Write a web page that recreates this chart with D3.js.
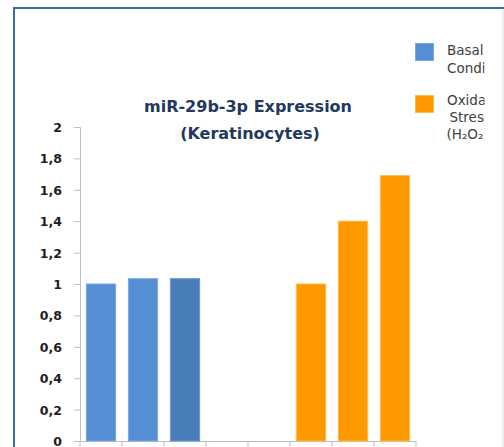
<!DOCTYPE html>
<html><head><meta charset="utf-8">
<script src="https://cdn.jsdelivr.net/npm/d3@7"></script>
<style>html,body{margin:0;padding:0;background:#fff;overflow:hidden}</style>
</head><body>
<svg id="c" width="504" height="447"></svg>
<script>
const categories = ["B1","B2","B3","E1","E2","O1","O2","O3"];
const values = [1.0, 1.034, 1.034, null, null, 1.0, 1.40, 1.69];
const groups = ["basal","basal","basal2",null,null,"ox","ox","ox"];
const yTicks = [0,0.2,0.4,0.6,0.8,1,1.2,1.4,1.6,1.8,2];
const titleLines = ["miR-29b-3p Expression","(Keratinocytes)"];
const legendItems = [
  {key:"basal", lines:["Basal","Conditions"]},
  {key:"ox", lines:["Oxidative","Stress","(H₂O₂)"]}
];

const colors = {basal:"#558ed5", basal2:"#4a7ebb", ox:"#ff9900"};
const strokes = {basal:"#7aa8e0", basal2:"#6a96cc", ox:"#ffb84d"};
const FONT = "'DejaVu Sans', sans-serif";

const svg = d3.select("#c");
svg.append("rect").attr("x",14).attr("y",8).attr("width",520).attr("height",460)
  .attr("fill","#fff").attr("stroke","#3d6aad").attr("stroke-width",2);
svg.append("line").attr("x1",503).attr("x2",503).attr("y1",9).attr("y2",447)
  .attr("stroke","#dcdce6").attr("stroke-width",1);

const x = d3.scaleBand().domain(categories).range([80,416]).paddingInner(0.28).paddingOuter(0.14);
const y = d3.scaleLinear().domain([0,2]).range([441,127]);

const fmt = d => d3.format("")(d).replace(".",",");

const yAxis = svg.append("g").attr("transform","translate(80,0)")
  .call(d3.axisLeft(y).tickValues(yTicks).tickFormat(fmt).tickSize(6).tickPadding(12));
yAxis.select(".domain").attr("stroke","#bfbfbf").attr("d","M-6,127.5H0.5V441.5");
yAxis.selectAll(".tick line").attr("stroke","#bfbfbf");
yAxis.selectAll(".tick text").attr("fill","#1e1e1e").attr("font-family",FONT)
  .attr("font-weight","bold").attr("font-size","12.5px").attr("dy","0.36em");

// x axis
const xg = svg.append("g").attr("transform","translate(0,441.5)");
xg.append("line").attr("x1",80).attr("x2",416).attr("stroke","#bfbfbf");
const bounds = categories.map(c=>x(c)-x.step()*x.paddingInner()/2).concat([416]);
xg.selectAll("line.t").data(bounds).join("line").attr("class","t")
  .attr("x1",d=>d).attr("x2",d=>d).attr("y1",0).attr("y2",5).attr("stroke","#bfbfbf");

// bars
const data = categories.map((c,i)=>({c,v:values[i],g:groups[i]})).filter(d=>d.v!=null);
svg.append("g").selectAll("rect").data(data).join("rect")
  .attr("x",d=>x(d.c)+0.5).attr("width",x.bandwidth()-1)
  .attr("y",d=>y(d.v)).attr("height",d=>y(0)-y(d.v))
  .attr("fill",d=>colors[d.g]).attr("stroke",d=>strokes[d.g]).attr("stroke-width",1);

// title
svg.append("text").attr("text-anchor","middle")
  .attr("font-family",FONT).attr("font-weight","bold").attr("font-size","16px")
  .attr("fill","#22385c")
  .selectAll("tspan").data(titleLines).join("tspan")
  .attr("x",(d,i)=>i?250:248).attr("y",(d,i)=>i?139:112).text(d=>d);

// legend
svg.append("clipPath").attr("id","lc").append("rect").attr("x",400).attr("y",30).attr("width",84.5).attr("height",130);
const lg = svg.append("g").attr("clip-path","url(#lc)");
const legTop = [43,95];
const lineX = [[447,447],[447,449.5,446.5]];
const lineY = [[55,73],[105,122,139]];
legendItems.forEach((it,i)=>{
  lg.append("rect").attr("x",415.5).attr("y",legTop[i]+0.5).attr("width",18).attr("height",17)
    .attr("fill",colors[it.key]).attr("stroke",strokes[it.key]);
  const t = lg.append("text").attr("font-family",FONT).attr("font-size","13.5px").attr("fill","#404040");
  it.lines.forEach((l,j)=>{
    t.append("tspan").attr("x",lineX[i][j]).attr("y",lineY[i][j]).text(l);
  });
});
</script>
</body></html>
